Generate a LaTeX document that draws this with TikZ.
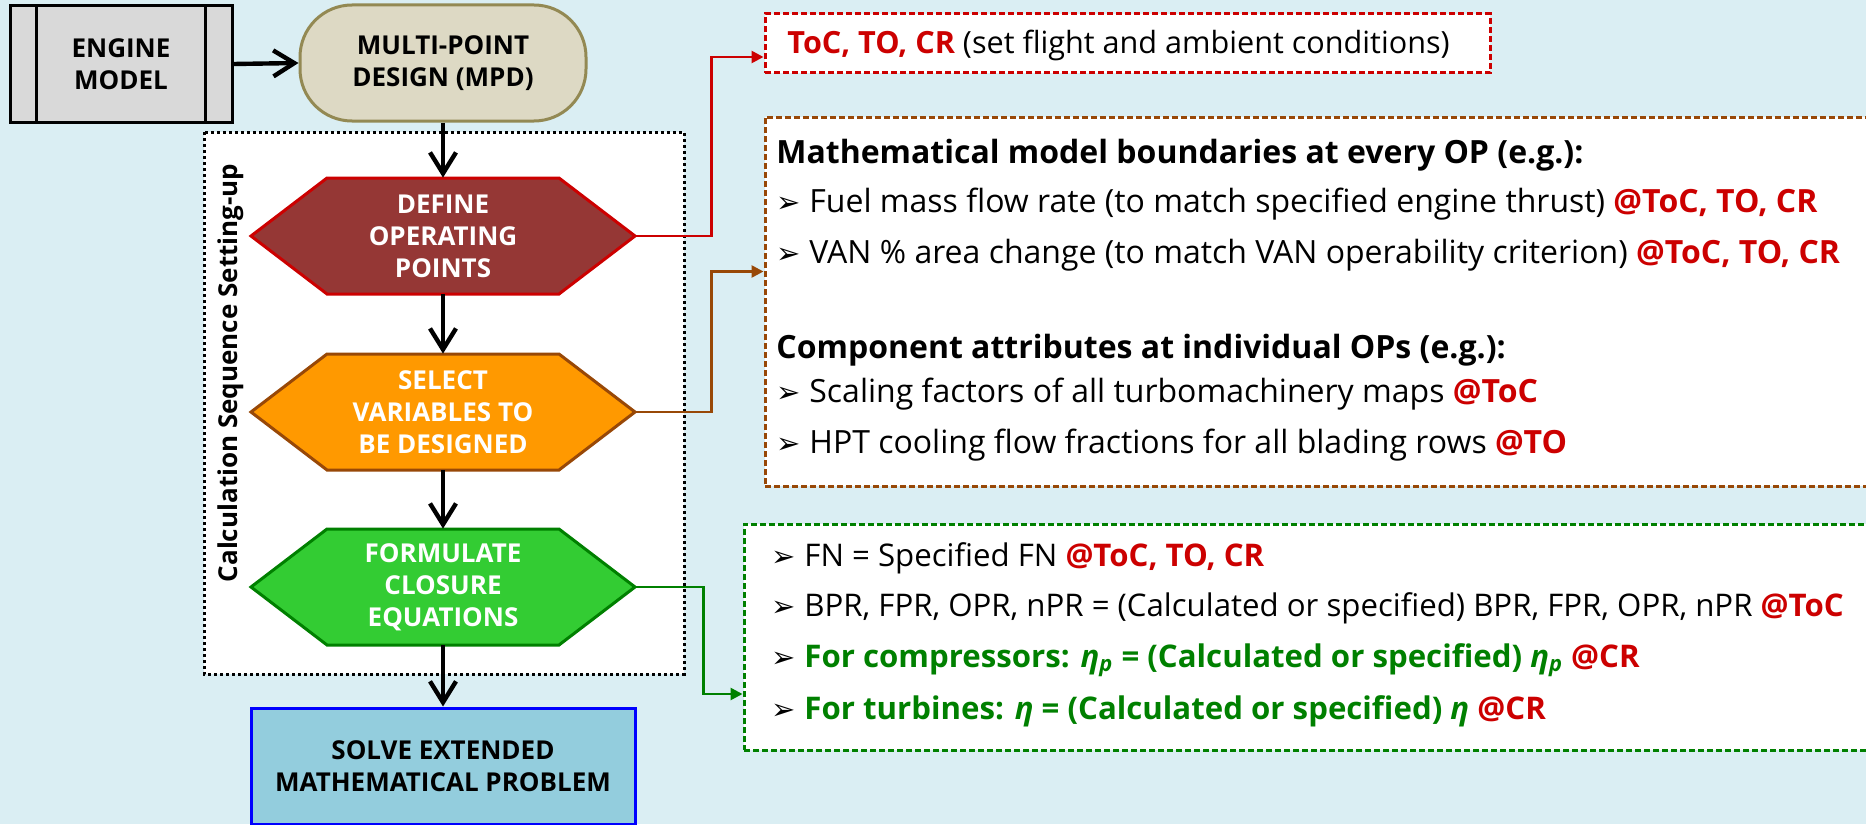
\documentclass[tikz,border=0pt]{standalone}
\usepackage{fontspec}
\setmainfont{Open Sans}
\newfontfamily\symfont{DejaVu Sans}
\usepackage{xcolor}
\usetikzlibrary{arrows.meta, positioning, calc}
\definecolor{bgblue}{RGB}{218,238,243}
\definecolor{engfill}{RGB}{217,217,217}
\definecolor{mpdfill}{RGB}{221,217,196}
\definecolor{mpdline}{RGB}{147,137,83}
\definecolor{deffill}{RGB}{149,55,53}
\definecolor{defline}{RGB}{204,0,0}
\definecolor{selfill}{RGB}{255,153,0}
\definecolor{selline}{RGB}{152,72,7}
\definecolor{forfill}{RGB}{51,204,51}
\definecolor{forline}{RGB}{0,128,0}
\definecolor{solfill}{RGB}{147,205,221}
\definecolor{solline}{RGB}{0,0,255}
\definecolor{opred}{RGB}{204,0,0}
\definecolor{eqgreen}{RGB}{0,128,0}
\newcommand{\opat}[1]{{\bfseries\color{opred}#1}}
\newcommand{\bul}{\makebox[16.5pt][l]{\symfont\fontsize{14.5}{17}\selectfont ➢}}
\tikzset{pics/hexa/.style={code={
  \draw[#1] (-192,0) -- (-116,-58) -- (116,-58) -- (192,0) -- (116,58) -- (-116,58) -- cycle;}}}

\begin{document}
\begin{tikzpicture}[x=0.5pt, y=-0.5pt, font=\fontsize{13}{16}\selectfont,
  lbl/.style={font=\fontsize{13}{16}\selectfont\bfseries, align=center},
  engbox/.style={lbl, draw, line width=1.5pt, fill=engfill, minimum width=111pt, minimum height=58pt},
  mpdbox/.style={lbl, draw=mpdline, line width=1.5pt, fill=mpdfill, rounded corners=26pt,
                 minimum width=143pt, minimum height=58pt},
  hexlabel/.style={lbl, text=white, inner sep=0pt, minimum width=192pt, minimum height=58pt},
  solvebox/.style={lbl, draw=solline, line width=1.5pt, fill=solfill, minimum width=192pt, minimum height=58pt},
  flowarrow/.style={line width=2.2pt, -{Straight Barb[length=10.5pt, width=13pt, line width=2.2pt]}},
  infobox/.style={fill=white, line width=1.5pt, dash pattern=on 3pt off 1.5pt},
  infoline/.style={anchor=west, inner sep=0pt, text height=11pt, text depth=3.5pt},
  headfont/.style={font=\fontsize{16}{19}\selectfont\bfseries},
  varfont/.style={font=\fontsize{16}{19}\selectfont},
  eqfont/.style={font=\fontsize{15.6}{19}\selectfont},
  redlink/.style={draw=defline, line width=1.3pt, -{Triangle[length=6pt, width=6pt]}},
  brownlink/.style={draw=selline, line width=1.3pt, -{Triangle[length=6pt, width=6pt]}},
  greenlink/.style={draw=forline, line width=1.3pt, -{Triangle[length=6pt, width=6pt]}}]

  \useasboundingbox (0,0) rectangle (1866,824);
  \clip (0,0) rectangle (1866,824);
  \fill[bgblue] (0,0) rectangle (1866,824);

  %% --- frame of the calculation sequence ---
  \draw[fill=white, line width=1.5pt, dash pattern=on 1.5pt off 1.5pt] (204,132) rectangle (684,674);
  \node[rotate=90, lbl] (calclabel) at (231,373) {Calculation Sequence Setting-up};

  %% --- top row ---
  \node[engbox] (engine) at (121,64) {ENGINE\\MODEL};
  \draw[line width=1.5pt] ([xshift=14pt]engine.north west) -- ([xshift=14pt]engine.south west);
  \draw[line width=1.5pt] ([xshift=-14pt]engine.north east) -- ([xshift=-14pt]engine.south east);
  \node[mpdbox] (mpd) at (443,63) {MULTI-POINT\\DESIGN (MPD)};

  %% --- hexagon steps ---
  \pic at (443,236) {hexa={fill=deffill, draw=defline, line width=1.5pt}};
  \node[hexlabel] (define) at (443,236) {DEFINE\\OPERATING\\POINTS};
  \pic at (443,412) {hexa={fill=selfill, draw=selline, line width=1.5pt}};
  \node[hexlabel] (select) at (443,412) {SELECT\\VARIABLES TO\\BE DESIGNED};
  \pic at (443,587) {hexa={fill=forfill, draw=forline, line width=1.5pt}};
  \node[hexlabel] (formulate) at (443,587) {FORMULATE\\CLOSURE\\EQUATIONS};
  \node[solvebox] (solve) at (443,766) {SOLVE EXTENDED\\MATHEMATICAL PROBLEM};

  \draw[flowarrow] (engine.east) -- (mpd.west);
  \draw[flowarrow] (mpd.south) -- (define.north);
  \draw[flowarrow] (define.south) -- (select.north);
  \draw[flowarrow] (select.south) -- (formulate.north);
  \draw[flowarrow] (formulate.south) -- (solve.north);

  %% --- operating points ---
  \node[infobox, draw=defline, minimum width=362.5pt, minimum height=29.5pt] (tocbox) at (1127.5,43.5) {};
  \node[infoline, font=\fontsize{15.3}{18}\selectfont] (toctext) at (787,46)
    {\opat{ToC, TO, CR} (set flight and ambient conditions)};

  %% --- design variables ---
  \node[infobox, draw=selline, minimum width=560pt, minimum height=184.5pt] (varbox) at (1325,301.5) {};
  \node[infoline, headfont] (varhead1) at (776,156)
    {Mathematical model boundaries at every OP (e.g.):};
  \node[infoline, varfont] (var1) at (776,205)
    {\bul Fuel mass flow rate (to match specified engine thrust) \opat{@ToC, TO, CR}};
  \node[infoline, varfont] (var2) at (776,256)
    {\bul VAN \% area change (to match VAN operability criterion) \opat{@ToC, TO, CR}};
  \node[infoline, headfont] (varhead2) at (776,351)
    {Component attributes at individual OPs (e.g.):};
  \node[infoline, varfont] (var3) at (776,395)
    {\bul Scaling factors of all turbomachinery maps \opat{@ToC}};
  \node[infoline, varfont] (var4) at (776,446)
    {\bul HPT cooling flow fractions for all blading rows \opat{@TO}};

  %% --- closure equations ---
  \node[infobox, draw=forline, minimum width=570pt, minimum height=113pt] (eqbox) at (1314,637) {};
  \node[infoline, eqfont] (eq1) at (771,559) {\bul FN = Specified FN \opat{@ToC, TO, CR}};
  \node[infoline, eqfont] (eq2) at (771,609)
    {\bul BPR, FPR, OPR, nPR = (Calculated or specified) BPR, FPR, OPR, nPR \opat{@ToC}};
  \node[infoline, eqfont, text=eqgreen] (eq3) at (771,660)
    {{\color{black}\bul}\bfseries For compressors: {\itshape η\textsubscript{p}} = (Calculated or specified) {\itshape η\textsubscript{p}} \opat{@CR}};
  \node[infoline, eqfont, text=eqgreen] (eq4) at (771,712)
    {{\color{black}\bul}\bfseries For turbines: {\itshape η} = (Calculated or specified) {\itshape η} \opat{@CR}};

  %% --- links to the boxes ---
  \draw[redlink] (define.east) -- ++(76,0) |- ([yshift=-6.75pt]tocbox.west);
  \draw[brownlink] (select.east) -- ++(76,0) |- ([yshift=15pt]varbox.west);
  \draw[greenlink] (formulate.east) -- ++(68,0) |- ([yshift=-28.5pt]eqbox.west);
\end{tikzpicture}
\end{document}
